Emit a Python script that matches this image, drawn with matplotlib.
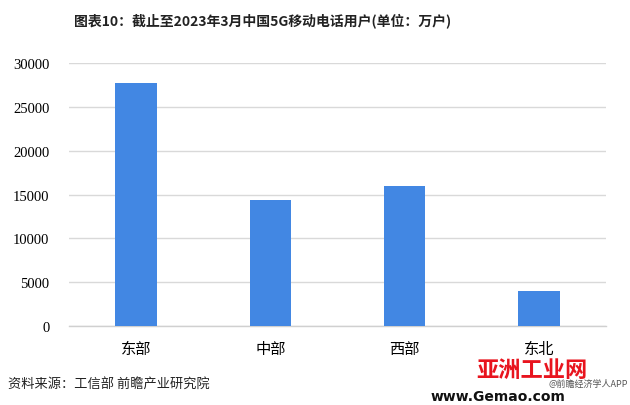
import numpy as np
import matplotlib.pyplot as plt

# 数据: 截止至2023年3月各地区5G移动电话用户(万户)
regions = ['东部', '中部', '西部', '东北']
users = [27700, 14400, 16000, 4000]
yticks = [0, 5000, 10000, 15000, 20000, 25000, 30000]

plt.rcParams['font.family'] = ['Noto Sans CJK SC', 'DejaVu Sans']

fig = plt.figure(figsize=(6.3, 4.06), dpi=100)
ax = fig.add_axes([0.1095, 0.1946, 0.8525, 0.6474])

x = np.arange(len(regions))
ax.bar(x, users, width=0.31, color='#4287E3', zorder=3)

ax.set_xlim(-0.5, len(regions) - 0.5)
ax.set_ylim(0, 30000)
ax.set_yticks(yticks)
ax.set_yticklabels([str(t) for t in yticks], family='Liberation Serif', fontsize=10.5)
ax.set_xticks(x)
ax.set_xticklabels(regions, fontsize=11)
ax.tick_params(axis='both', length=0, colors='#000000')
ax.tick_params(axis='y', pad=14)
ax.tick_params(axis='x', pad=10)

ax.grid(axis='y', color='#D9D9D9', linewidth=1, zorder=0)
for s in ['top', 'right', 'left']:
    ax.spines[s].set_visible(False)
ax.spines['bottom'].set_color('#D0D0D0')
ax.spines['bottom'].set_linewidth(1)

fig.text(0.416, 0.950, '图表10：截止至2023年3月中国5G移动电话用户(单位：万户)',
         ha='center', va='center', fontsize=10, fontweight='bold', color='#222222')
fig.text(0.012, 0.052, '资料来源：工信部 前瞻产业研究院', ha='left', va='center',
         fontsize=9.5, color='#222222')

# 水印
fig.text(0.845, 0.088, '亚洲工业网', ha='center', va='center', fontsize=16,
         fontweight='bold', color='#E8141E')
fig.text(0.997, 0.052, '@前瞻经济学人APP', ha='right', va='center', fontsize=6.5,
         color='#555555')
fig.text(0.79, 0.022, 'www.Gemao.com', ha='center', va='center', fontsize=10,
         fontweight='bold', color='#111111', family='DejaVu Sans')

fig.savefig('out.png', dpi=100)
